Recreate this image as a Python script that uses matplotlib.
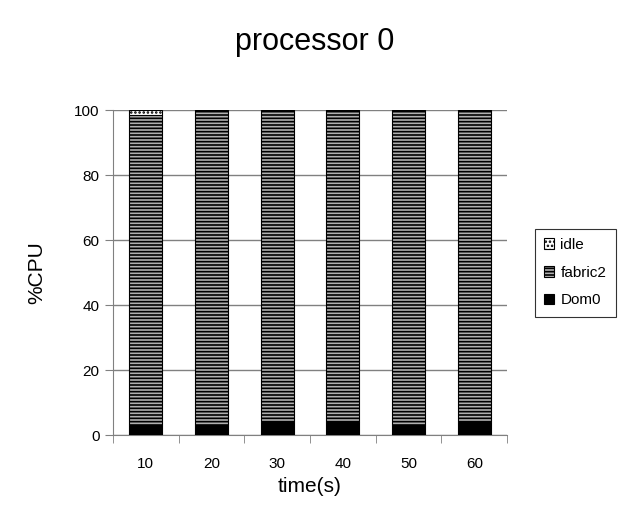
import matplotlib.pyplot as plt
import numpy as np

times = ["10", "20", "30", "40", "50", "60"]
dom0 = [3, 3, 4, 4, 3, 4]
idle = [1.5, 0, 0, 0, 0, 0]
fabric2 = [100 - d - i for d, i in zip(dom0, idle)]

plt.rcParams["font.family"] = ["Liberation Sans", "DejaVu Sans"]
plt.rcParams["hatch.linewidth"] = 1.2

fig = plt.figure(figsize=(6.3, 5.25), dpi=100)
ax = fig.add_axes([0.179, 0.171, 0.626, 0.619])

x = np.arange(len(times))
w = 0.5
ax.bar(x, dom0, w, color="black", edgecolor="black", linewidth=0.8, label="Dom0", zorder=3)
ax.bar(x, fabric2, w, bottom=dom0, facecolor="#b0b0b0", edgecolor="black",
       hatch="-----", linewidth=0.8, label="fabric2", zorder=3)
bot2 = [d + f for d, f in zip(dom0, fabric2)]
ax.bar(x, idle, w, bottom=bot2, facecolor="white", edgecolor="black",
       hatch="....", linewidth=0.8, label="idle", zorder=3)

ax.set_xlim(-0.5, len(times) - 0.5)
ax.set_ylim(0, 100)
ax.set_yticks(range(0, 101, 20))
ax.yaxis.grid(True, color="#808080", linewidth=1)
ax.set_axisbelow(True)
ax.set_xticks(x)
ax.set_xticklabels(times, fontsize=11)
ax.set_xticks(np.arange(-0.5, len(times)), minor=True)
ax.tick_params(axis="x", which="major", length=0, pad=16)
ax.tick_params(axis="x", which="minor", length=6, color="#808080", direction="out")
ax.tick_params(axis="y", length=6, color="#808080", labelsize=11, direction="out")
for s in ["top", "right"]:
    ax.spines[s].set_visible(False)
for s in ["left", "bottom"]:
    ax.spines[s].set_color("#808080")

ax.set_ylabel("%CPU", fontsize=15, labelpad=20)
ax.set_xlabel("time(s)", fontsize=15, labelpad=4)
fig.suptitle("processor 0", fontsize=22, y=0.948)

handles, labels = ax.get_legend_handles_labels()
leg = ax.legend(handles[::-1], labels[::-1], loc="center left",
                bbox_to_anchor=(1.05, 0.5), frameon=True, fancybox=False,
                edgecolor="black", fontsize=11, handlelength=0.7, handleheight=0.7,
                handletextpad=0.4, labelspacing=0.9, borderpad=0.6)
leg.get_frame().set_linewidth(0.8)

fig.savefig("out.png", dpi=100)
